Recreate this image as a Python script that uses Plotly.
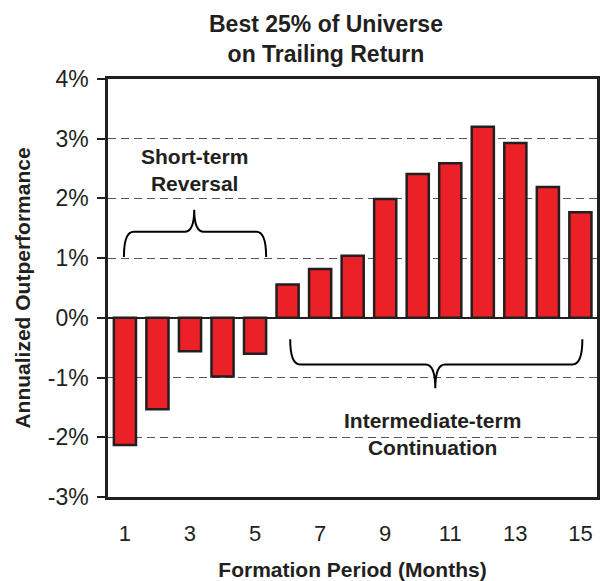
import plotly.graph_objects as go

# formation period (months) and annualized outperformance (%)
months = list(range(1, 16))
outperformance = [-2.13, -1.53, -0.56, -0.98, -0.60, 0.56, 0.82, 1.04,
                  1.99, 2.41, 2.59, 3.20, 2.93, 2.19, 1.77]

x_ticks = [1, 3, 5, 7, 9, 11, 13, 15]
y_ticks = [-3, -2, -1, 0, 1, 2, 3, 4]
y_labels = ["-3%", "-2%", "-1%", "0%", "1%", "2%", "3%", "4%"]

FONT = "Liberation Sans, Arial, Helvetica, sans-serif"
INK = "#231F20"
RED = "#EC2027"


def brace(x0, x1, xc, y_end, y_flat, y_tip, r):
    # curly brace as an svg path in data units
    return (f"M {x0},{y_end} Q {x0},{y_flat} {x0 + r},{y_flat} "
            f"L {xc - r},{y_flat} Q {xc},{y_flat} {xc},{y_tip} "
            f"Q {xc},{y_flat} {xc + r},{y_flat} "
            f"L {x1 - r},{y_flat} Q {x1},{y_flat} {x1},{y_end}")


fig = go.Figure()
fig.add_trace(go.Bar(
    x=months, y=outperformance, width=0.68,
    marker=dict(color=RED, line=dict(color=INK, width=2.5)),
    hoverinfo="x+y",
))

fig.add_shape(type="path", xref="x", yref="y",
              path=brace(0.97, 5.34, 3.13, 1.02, 1.44, 1.81, 0.3),
              line=dict(color="black", width=2))
fig.add_shape(type="path", xref="x", yref="y",
              path=brace(6.08, 15.06, 10.54, -0.36, -0.78, -1.18, 0.3),
              line=dict(color="black", width=2))

fig.add_annotation(x=3.13, y=2.48, xref="x", yref="y",
                   text="<b>Short-term<br>Reversal</b>", showarrow=False,
                   font=dict(family=FONT, size=21, color=INK))
fig.add_annotation(x=10.45, y=-1.95, xref="x", yref="y",
                   text="<b>Intermediate-term<br>Continuation</b>", showarrow=False,
                   font=dict(family=FONT, size=21, color=INK))

# chart title
fig.add_annotation(x=0.446, y=1.0957, xref="paper", yref="paper",
                   xanchor="center", yanchor="middle",
                   text="<b>Best 25% of Universe<br>on Trailing Return</b>",
                   showarrow=False,
                   font=dict(family=FONT, size=23, color=INK))

fig.update_layout(
    width=602, height=581,
    margin=dict(l=108, r=5, t=79, b=84),
    paper_bgcolor="white", plot_bgcolor="white",
    showlegend=False,
    font=dict(family=FONT, color=INK),
)

fig.update_xaxes(
    automargin=False,
    range=[0.48, 15.51], tickvals=x_ticks, ticks="",
    tickfont=dict(size=22, color=INK), ticklabelstandoff=15,
    showline=True, mirror=True, linecolor=INK, linewidth=2.5,
    showgrid=False, zeroline=False,
    title=dict(text="<b>Formation Period (Months)</b>",
               font=dict(size=21, color=INK), standoff=22),
)
fig.update_yaxes(
    automargin=False,
    range=[-3, 4], tickvals=y_ticks, ticktext=y_labels,
    ticks="outside", ticklen=8, tickwidth=2, tickcolor=INK,
    tickfont=dict(size=23, color=INK), ticklabelstandoff=4,
    showline=True, mirror=True, linecolor=INK, linewidth=2.5,
    showgrid=True, gridcolor="#555555", gridwidth=1, griddash="8px,5px",
    zeroline=True, zerolinecolor=INK, zerolinewidth=2,
    title=dict(text="<b>Annualized Outperformance</b>",
               font=dict(size=21, color=INK), standoff=12),
)

fig.write_html("out.html", config={"displayModeBar": False},
               post_script="document.body.style.margin='0';")
